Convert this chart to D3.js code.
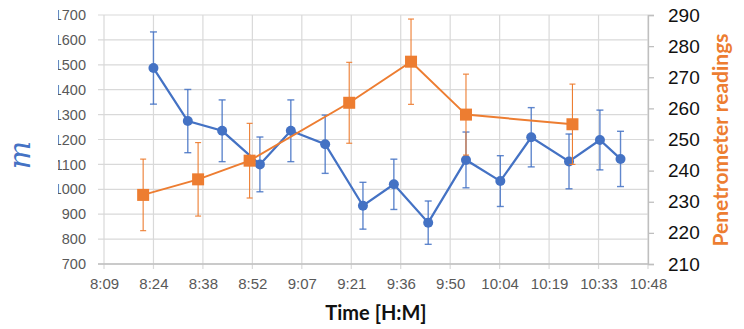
<!DOCTYPE html>
<html>
<head>
<meta charset="utf-8">
<script src="https://cdn.jsdelivr.net/npm/d3@7"></script>
<style>
  html, body { margin: 0; padding: 0; background: #fff; }
  svg { display: block; font-family: Lato, "Open Sans", sans-serif; }
</style>
</head>
<body>
<div id="chart"></div>
<script>
// blue series (left axis), time of reading, value, error
const blueTimes = ["8:24", "8:34", "8:44", "8:55", "9:04", "9:14", "9:25", "9:34",
                   "9:44", "9:55", "10:05", "10:14", "10:25", "10:34", "10:40"];
const blueValues = [1487, 1274, 1235, 1100, 1235, 1181, 934, 1020,
                    866, 1118, 1033, 1209, 1112, 1198, 1122];
const blueErrors = [145, 127, 124, 110, 124, 117, 94, 101,
                    87, 112, 102, 119, 110, 120, 111];

// orange series (right axis), penetrometer readings
const orangeTimes = ["8:21", "8:37", "8:52", "9:21", "9:39", "9:55", "10:26"];
const orangeValues = [232.2, 237.2, 243.2, 261.8, 275.0, 258.0, 254.9];
const orangeErrors = [11.5, 11.8, 12.0, 13.0, 13.7, 13.0, 12.9];

// axes
const xTickDays = [0.34, 0.35, 0.36, 0.37, 0.38, 0.39, 0.40, 0.41, 0.42, 0.43, 0.44, 0.45];
const xTickLabels = ["8:09", "8:24", "8:38", "8:52", "9:07", "9:21", "9:36", "9:50",
                     "10:04", "10:19", "10:33", "10:48"];
const leftTicks = [700, 800, 900, 1000, 1100, 1200, 1300, 1400, 1500, 1600, 1700];
const rightTicks = [210, 220, 230, 240, 250, 260, 270, 280, 290];

const W = 744, H = 329;
const margin = {top: 15, left: 104, right: 96, bottom: 65};
const width = W - margin.left - margin.right;
const height = H - margin.top - margin.bottom;

const blue = "#4472C4", orange = "#ED7D31", grid = "#d9d9d9", label = "#595959";

function toDay(s) {
  const [h, m] = s.split(":").map(Number);
  return (h * 60 + m) / 1440;
}

const svg = d3.select("#chart").append("svg")
  .attr("width", W).attr("height", H);
svg.append("rect").attr("width", W).attr("height", H).attr("fill", "#fff");

// the left edge of the picture is cut off
svg.append("clipPath").attr("id", "cut")
  .append("rect").attr("x", 58).attr("y", 0).attr("width", W).attr("height", H);

const g = svg.append("g").attr("transform", `translate(${margin.left},${margin.top})`);

const x = d3.scaleLinear().domain([0.34, 0.45]).range([0, width]);
const yL = d3.scaleLinear().domain([700, 1700]).range([height, 0]);
const yR = d3.scaleLinear().domain([210, 290]).range([height, 0]);

// gridlines
g.append("g").selectAll("line").data(leftTicks).enter().append("line")
  .attr("x1", -6).attr("x2", width)
  .attr("y1", d => yL(d)).attr("y2", d => yL(d))
  .attr("stroke", grid).attr("stroke-width", 1.2);
g.append("g").selectAll("line").data(xTickDays).enter().append("line")
  .attr("x1", d => x(d)).attr("x2", d => x(d))
  .attr("y1", 0).attr("y2", height + 5)
  .attr("stroke", grid).attr("stroke-width", 1.2);

// bottom axis
const xAxis = g.append("g").attr("transform", `translate(0,${height})`)
  .call(d3.axisBottom(x).tickValues(xTickDays).tickFormat((d, i) => xTickLabels[i])
    .tickSize(0).tickPadding(14));
xAxis.select(".domain").attr("stroke", "#bfbfbf").attr("stroke-width", 1.3).attr("d", `M-6,0H${width}`);
xAxis.selectAll("text").attr("fill", label).style("font-size", "15px");

// left axis, clipped at the picture's cut edge
const leftWrap = svg.append("g").attr("clip-path", "url(#cut)");
const yAxisL = leftWrap.append("g").attr("transform", `translate(${margin.left},${margin.top})`)
  .call(d3.axisLeft(yL).tickValues(leftTicks).tickFormat(d3.format("d"))
    .tickSize(0).tickPadding(18));
yAxisL.select(".domain").remove();
yAxisL.selectAll("text").attr("fill", label).style("font-size", "14.5px");

// right axis
const yAxisR = g.append("g").attr("transform", `translate(${width},0)`)
  .call(d3.axisRight(yR).tickValues(rightTicks).tickSize(6).tickPadding(14));
yAxisR.select(".domain").attr("stroke", "#bfbfbf").attr("stroke-width", 1.3);
yAxisR.selectAll(".tick line").attr("stroke", "#bfbfbf").attr("stroke-width", 1.3);
yAxisR.selectAll("text").attr("fill", "#111").style("font-size", "19px");

// blue series
const blueData = blueTimes.map((t, i) => ({t: toDay(t), v: blueValues[i], e: blueErrors[i]}));
const eb = g.append("g").attr("stroke", blue).attr("stroke-width", 1.4).attr("stroke-opacity", 0.85);
blueData.forEach(d => {
  const cx = x(d.t), y1 = yL(d.v + d.e), y2 = yL(d.v - d.e);
  eb.append("line").attr("x1", cx).attr("x2", cx).attr("y1", y1).attr("y2", y2);
  eb.append("line").attr("x1", cx - 3.5).attr("x2", cx + 3.5).attr("y1", y1).attr("y2", y1);
  eb.append("line").attr("x1", cx - 3.5).attr("x2", cx + 3.5).attr("y1", y2).attr("y2", y2);
});
g.append("path").datum(blueData)
  .attr("d", d3.line().x(d => x(d.t)).y(d => yL(d.v)))
  .attr("fill", "none").attr("stroke", blue).attr("stroke-width", 2.25);
g.append("g").selectAll("circle").data(blueData).enter().append("circle")
  .attr("cx", d => x(d.t)).attr("cy", d => yL(d.v)).attr("r", 5)
  .attr("fill", blue);

// orange series
const orangeData = orangeTimes.map((t, i) => ({t: toDay(t), v: orangeValues[i], e: orangeErrors[i]}));
const eo = g.append("g").attr("stroke", orange).attr("stroke-width", 1.1);
orangeData.forEach(d => {
  const cx = x(d.t), y1 = yR(d.v + d.e), y2 = yR(d.v - d.e);
  eo.append("line").attr("x1", cx).attr("x2", cx).attr("y1", y1).attr("y2", y2);
  eo.append("line").attr("x1", cx - 3).attr("x2", cx + 3).attr("y1", y1).attr("y2", y1);
  eo.append("line").attr("x1", cx - 3).attr("x2", cx + 3).attr("y1", y2).attr("y2", y2);
});
g.append("path").datum(orangeData)
  .attr("d", d3.line().x(d => x(d.t)).y(d => yR(d.v)))
  .attr("fill", "none").attr("stroke", orange).attr("stroke-width", 2);
g.append("g").selectAll("rect").data(orangeData).enter().append("rect")
  .attr("x", d => x(d.t) - 6).attr("y", d => yR(d.v) - 6)
  .attr("width", 12).attr("height", 12)
  .attr("fill", orange);

// axis titles
svg.append("text")
  .attr("transform", "translate(376,320)")
  .attr("text-anchor", "middle")
  .style("font-size", "20px").style("font-weight", "bold").attr("fill", "#111")
  .text("Time [H:M]");

svg.append("text")
  .attr("transform", "translate(728,140) rotate(-90)")
  .attr("text-anchor", "middle")
  .style("font-size", "21px").style("font-weight", "bold").attr("fill", orange)
  .text("Penetrometer readings");

svg.append("text")
  .attr("transform", "translate(30,155) rotate(-90)")
  .attr("text-anchor", "middle")
  .style("font-size", "30px").style("font-style", "italic")
  .style("font-family", "'DejaVu Serif', serif")
  .attr("fill", blue)
  .text("m");
</script>
</body>
</html>
